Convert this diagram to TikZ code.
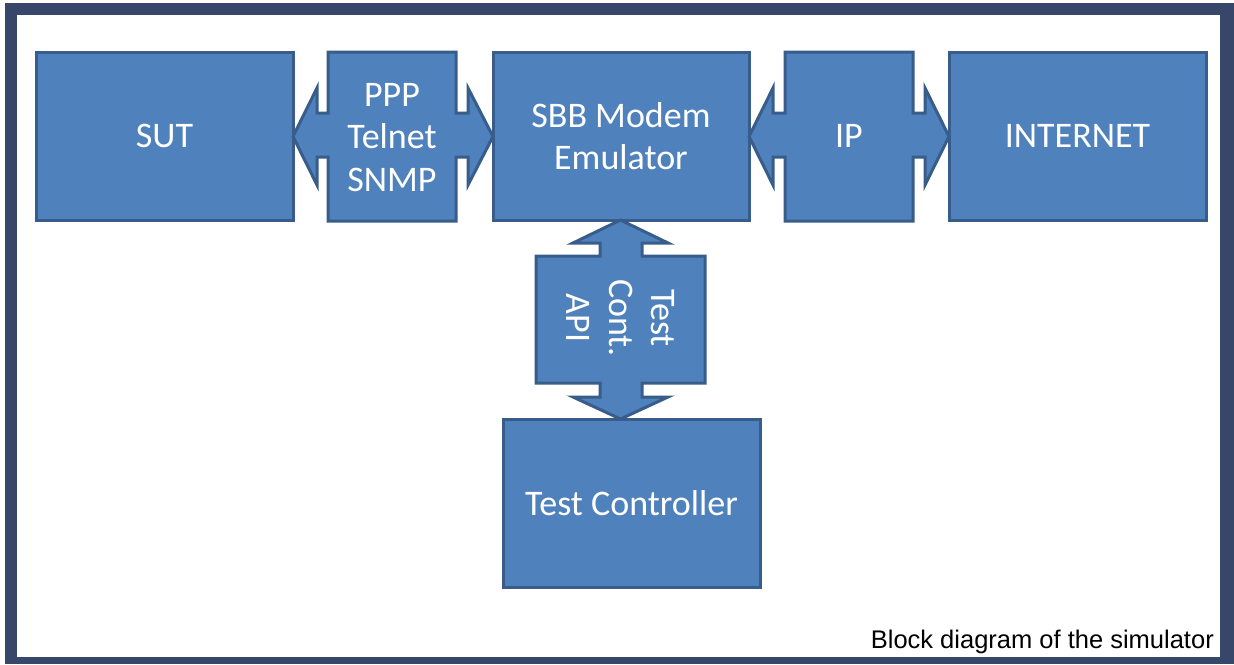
\documentclass[tikz,border=0pt]{standalone}
\usepackage{fontspec}
\setmainfont{Carlito}
\newfontfamily\capfont{Liberation Sans}
\definecolor{boxfill}{HTML}{4F81BD}
\definecolor{boxline}{HTML}{385D8A}
\definecolor{framecol}{HTML}{37476A}
\begin{document}
\begin{tikzpicture}[x=1pt,y=-1pt,
  blk/.style={draw=boxline, fill=boxfill, line width=3pt, line join=miter, text=white,
              font=\fontsize{36}{42.5}\selectfont, align=center, inner sep=0pt,
              minimum width=257pt, minimum height=168pt},
  callout/.style={draw=boxline, fill=boxfill, line width=3pt, line join=miter},
  lbl/.style={text=white, font=\fontsize{36}{42.5}\selectfont, align=center, inner sep=0pt}]
\useasboundingbox (0,0) rectangle (1234,664);
\fill[framecol] (5,3) rectangle (1234,664);
\fill[white] (17,15) rectangle (1220,657);

% main boxes
\node[blk] (sut) at (164.5,136) {SUT};
\node[blk, minimum width=256pt] (sbb) at (621,136) {SBB Modem\\Emulator};
\node[blk] (inet) at (1077.5,136) {INTERNET};
\node[blk] (tc) at (631.5,503) {Test Controller};

% PPP callout (left-right)
\draw[callout] (328,52) -- (456,52) -- (456,113) -- (468,113) -- (468,88) -- (493,136.5)
  -- (468,185) -- (468,157) -- (456,157) -- (456,221) -- (328,221) -- (328,157)
  -- (317,157) -- (317,185) -- (293,136.5) -- (317,88) -- (317,113) -- (328,113) -- cycle;
\node[lbl] (ppp) at (392,137.5) {PPP\\Telnet\\SNMP};

% IP callout (left-right)
\draw[callout] (785,52) -- (913,52) -- (913,113) -- (925,113) -- (925,88) -- (949,136.5)
  -- (925,185) -- (925,157) -- (913,157) -- (913,221) -- (785,221) -- (785,157)
  -- (773,157) -- (773,185) -- (749,136.5) -- (773,88) -- (773,113) -- (785,113) -- cycle;
\node[lbl] (ip) at (849,136) {IP};

% Test Cont. API callout (up-down)
\draw[callout] (536,256) -- (600,256) -- (600,243) -- (573,243) -- (620.5,220) -- (668,243)
  -- (642,243) -- (642,256) -- (705,256) -- (705,383) -- (642,383) -- (642,397)
  -- (668,397) -- (620.5,419) -- (573,397) -- (600,397) -- (600,383) -- (536,383) -- cycle;
\node[lbl, rotate=-90] (api) at (621,318) {Test\\Cont.\\API};

% caption
\node[anchor=base east, inner sep=0pt, font=\capfont\fontsize{25.5}{30}\selectfont] (cap)
  at (1214,648) {Block diagram of the simulator};
\end{tikzpicture}
\end{document}
